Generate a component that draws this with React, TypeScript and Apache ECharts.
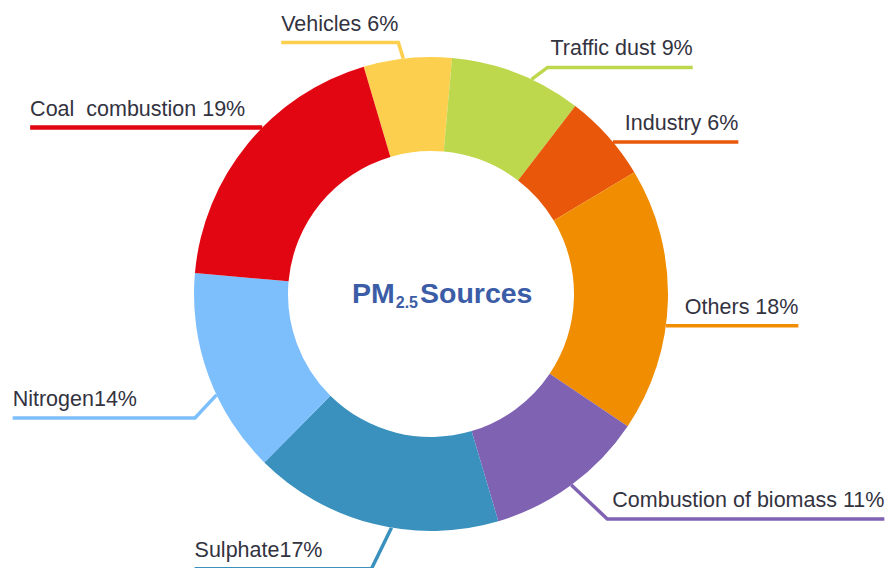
import React, { useEffect, useRef } from 'react';
import * as echarts from 'echarts';

// ---- data ----
const categories = [
  'Vehicles',
  'Traffic dust',
  'Industry',
  'Others',
  'Combustion of biomass',
  'Sulphate',
  'Nitrogen',
  'Coal  combustion',
];
const values = [6, 9, 6, 18, 11, 17, 14, 19];
const labelSeparators = [' ', ' ', ' ', ' ', ' ', '', '', ' '];

// ---- styles ----
const colors = ['#FDCF4E', '#BDD84D', '#E8570A', '#F18D00', '#8062B3', '#3A91BE', '#7DBFFD', '#E20613'];
const lineWidths = [3.5, 3.5, 3.5, 3.5, 3.5, 3.5, 3.5, 4.5];

// ---- label placement (layout only) ----
const labelShiftDeg = [1, -3.8, -1.8, -6.2, 0, 4.5, 5.1, -5.3];
const labelElbow = [[-5, -16], [16, -12], [0, 0], [0, 0], [36, 34], [-20, 41], [-21.6, 23], [0, 0]];
const labelSide = ['left', 'right', 'right', 'right', 'right', 'left', 'left', 'left'];
const labelGap = [0, 3, 12, 19, 5, 49, 58, 17];

const CX = 431;
const CY = 294;
const R_OUT = 237;
const R_IN = 143;
const START_ANGLE = 106.5;
const FONT = '"Liberation Sans", Arial, Helvetica, sans-serif';

export default function App() {
  const ref = useRef<HTMLDivElement>(null);

  useEffect(() => {
    if (!ref.current) return;
    const chart = echarts.init(ref.current, undefined, { renderer: 'svg' });
    const total = values.reduce((a, b) => a + b, 0);

    const data = categories.map((name, i) => ({
      name,
      value: values[i],
      itemStyle: { color: colors[i] },
      labelLine: { lineStyle: { color: colors[i], width: lineWidths[i] } },
    }));

    chart.setOption({
      animation: false,
      backgroundColor: '#ffffff',
      title: {
        text: '{a|PM}{b|2.5}{a|Sources}',
        left: 352,
        top: 276,
        padding: 0,
        textStyle: {
          rich: {
            a: {
              fontFamily: FONT,
              fontSize: 28.5,
              fontWeight: 'bold',
              color: '#3B5CA6',
              lineHeight: 34,
              verticalAlign: 'middle',
            },
            b: {
              fontFamily: FONT,
              fontSize: 16,
              fontWeight: 'bold',
              color: '#3B5CA6',
              lineHeight: 2,
              verticalAlign: 'bottom',
              padding: [0, 2, 0, 1],
            },
          },
        },
      },
      series: [
        {
          type: 'pie',
          center: [CX, CY],
          radius: [R_IN, R_OUT],
          startAngle: START_ANGLE,
          clockwise: true,
          avoidLabelOverlap: false,
          data,
          label: {
            show: true,
            position: 'outside',
            fontFamily: FONT,
            fontSize: 21.5,
            color: '#33333f',
            formatter: (p: any) => `${categories[p.dataIndex]}${labelSeparators[p.dataIndex]}${values[p.dataIndex]}%`,
          },
          labelLine: { show: true, length: 10, length2: 10, smooth: false },
          emphasis: { disabled: true },
          labelLayout: (params: any) => {
            const i = params.dataIndex;
            const pts = params.labelLinePoints;
            let ang: number;
            if (pts && pts[0]) {
              ang = Math.atan2(CY - pts[0][1], pts[0][0] - CX);
            } else {
              let cum = 0;
              for (let k = 0; k < i; k++) cum += values[k];
              ang = ((START_ANGLE - (360 * (cum + values[i] / 2)) / total) * Math.PI) / 180;
            }
            ang += (labelShiftDeg[i] * Math.PI) / 180;
            const ax = CX + R_OUT * Math.cos(ang);
            const ay = CY - R_OUT * Math.sin(ang);
            const ex = ax + labelElbow[i][0];
            const ey = ay + labelElbow[i][1];
            const w = params.labelRect.width;
            const isLeft = labelSide[i] === 'left';
            const tx = isLeft ? ex - labelGap[i] : ex + labelGap[i];
            const endX = isLeft ? tx - w : tx + w;
            return {
              x: tx,
              y: ey - 8,
              align: isLeft ? 'right' : 'left',
              verticalAlign: 'bottom',
              labelLinePoints: [
                [ax, ay],
                [ex, ey],
                [endX, ey],
              ],
            };
          },
        },
      ],
    });

    return () => chart.dispose();
  }, []);

  return (
    <div
      ref={ref}
      style={{ position: 'fixed', left: 0, top: 0, width: 893, height: 568, background: '#fff' }}
    />
  );
}
